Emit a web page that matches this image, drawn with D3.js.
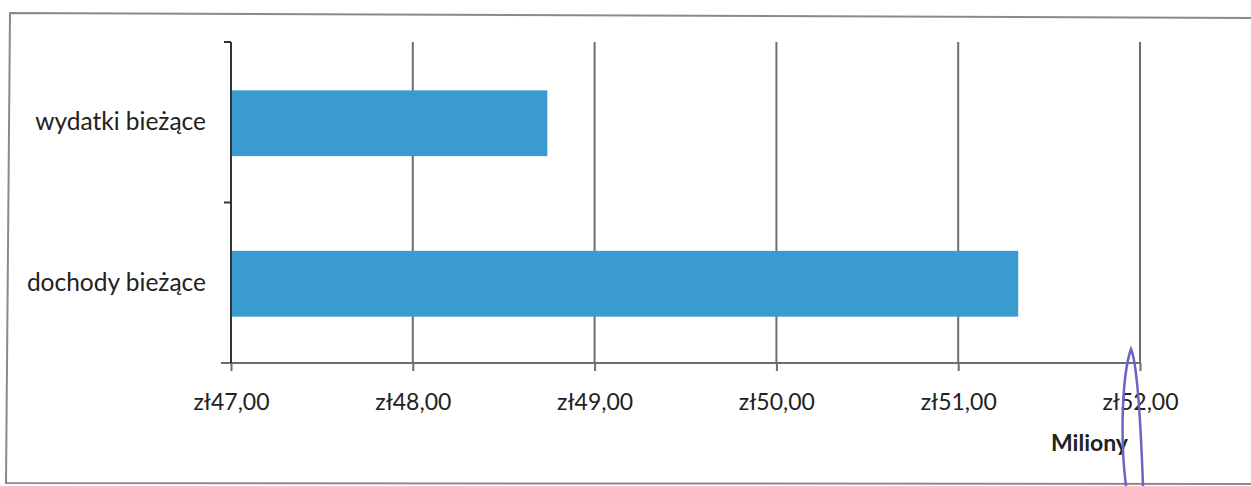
<!DOCTYPE html>
<html>
<head>
<meta charset="utf-8">
<script src="https://cdn.jsdelivr.net/npm/d3@7"></script>
<style>
  body { margin: 0; background: #fff; }
  svg { display: block; }
  text { font-family: Lato, "Open Sans", sans-serif; fill: #222; }
</style>
</head>
<body>
<svg width="1251" height="486"></svg>
<script>
var categories = ["wydatki bieżące", "dochody bieżące"];
var values = [48.74, 51.33];
var tickValues = [47, 48, 49, 50, 51, 52];
var tickLabels = ["zł47,00", "zł48,00", "zł49,00", "zł50,00", "zł51,00", "zł52,00"];
var unitLabel = "Miliony";

var svg = d3.select("svg"),
    margin = {top: 42, left: 231},
    width = 1140 - margin.left,
    height = 363 - margin.top;

// scanned frame
svg.append("path")
    .attr("d", "M1251,18 L10,13 L6,483 L1251,484")
    .attr("fill", "none")
    .attr("stroke", "#8a8a8a")
    .attr("stroke-width", 2);

var x = d3.scaleLinear().domain([47, 52]).range([0, width]),
    y = d3.scaleBand().domain(categories).range([0, height]);

var g = svg.append("g")
    .attr("transform", "translate(" + margin.left + "," + margin.top + ")");

// vertical gridlines
g.selectAll(".grid")
  .data(tickValues.slice(1))
  .enter().append("line")
    .attr("class", "grid")
    .attr("x1", function(d) { return x(d); })
    .attr("x2", function(d) { return x(d); })
    .attr("y1", 0)
    .attr("y2", height)
    .attr("stroke", "#6e6e6e")
    .attr("stroke-width", 2);

// bars
var barH = y.bandwidth() * 0.41;
g.selectAll(".bar")
  .data(categories)
  .enter().append("rect")
    .attr("class", "bar")
    .attr("x", x(47))
    .attr("y", function(d) { return y(d) + (y.bandwidth() - barH) / 2 + 1; })
    .attr("width", function(d, i) { return x(values[i]) - x(47); })
    .attr("height", barH)
    .attr("fill", "#3a9bd0");

// x axis
var xAxis = g.append("g")
    .attr("transform", "translate(0," + height + ")")
    .call(d3.axisBottom(x)
      .tickValues(tickValues)
      .tickSize(8)
      .tickPadding(23)
      .tickFormat(function(d, i) { return tickLabels[i]; }));
xAxis.select(".domain").remove();
xAxis.append("line")
    .attr("x1", -10).attr("x2", width)
    .attr("stroke", "#6e6e6e").attr("stroke-width", 2);
xAxis.selectAll(".tick line").attr("stroke", "#6e6e6e").attr("stroke-width", 2);
xAxis.selectAll(".tick text")
    .style("font-size", "23px")
    .attr("fill", "#222");

// y axis
var yAxis = g.append("g")
    .call(d3.axisLeft(y).tickSize(0).tickPadding(25));
yAxis.select(".domain").remove();
yAxis.append("line")
    .attr("y1", 0).attr("y2", height)
    .attr("stroke", "#333").attr("stroke-width", 2);
yAxis.selectAll(".ytick")
  .data([0, height / 2])
  .enter().append("line")
    .attr("class", "ytick")
    .attr("x1", -7).attr("x2", 0)
    .attr("y1", function(d) { return d; })
    .attr("y2", function(d) { return d; })
    .attr("stroke", "#333").attr("stroke-width", 2);
yAxis.selectAll(".tick text")
    .style("font-size", "24.5px")
    .attr("fill", "#222");

// unit label
g.append("text")
    .attr("x", x(52) - 12)
    .attr("y", height + 88)
    .attr("text-anchor", "end")
    .style("font-size", "23px")
    .style("font-weight", "bold")
    .text(unitLabel);

// pen mark on the scan
svg.append("path")
    .attr("d", "M1126,486 C1120,440 1122,375 1131,349 C1138,365 1141,430 1143,486")
    .attr("fill", "none")
    .attr("stroke", "#6a63c8")
    .attr("stroke-width", 2.5);
</script>
</body>
</html>
